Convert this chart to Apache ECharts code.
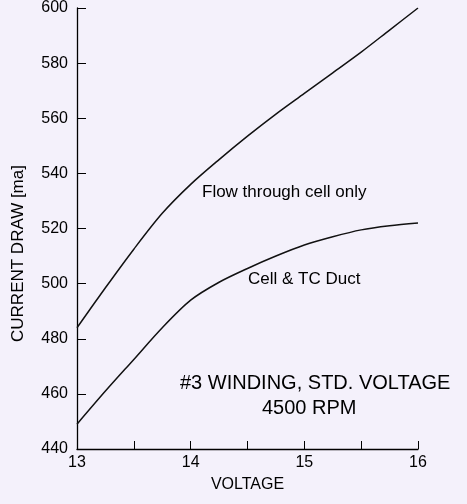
<!DOCTYPE html>
<html>
<head>
<meta charset="utf-8">
<script src="https://cdn.jsdelivr.net/npm/echarts@6/dist/echarts.min.js"></script>
<style>
  html, body { margin: 0; padding: 0; background: #f4f1fb; }
  #chart { width: 467px; height: 504px; }
</style>
</head>
<body>
<div id="chart"></div>
<script>
// volts along the bottom
const voltage = [13, 13.25, 13.5, 13.75, 14, 14.25, 14.5, 14.75, 15, 15.25, 15.5, 15.75, 16]
// current draw, ma
const flowCellOnly = [484, 498.5, 512.5, 525.5, 536, 545, 553.5, 561.5, 569, 576.5, 584, 592, 600]
const cellTcDuct = [449, 461, 472.5, 484, 494, 500.5, 505.5, 510, 514, 517, 519.5, 521, 522]
const yTicks = [440, 460, 480, 500, 520, 540, 560, 580, 600]
const xTicks = [13, 14, 15, 16]

const font = 'Liberation Sans'
const ink = '#000'

const toPairs = (xs, ys) => xs.map((x, i) => [x, ys[i]])

const lineSeries = (name, values) => ({
  name: name,
  type: 'line',
  data: toPairs(voltage, values),
  smooth: 0.3,
  showSymbol: false,
  lineStyle: { color: '#111', width: 1.5 },
  silent: true
})

const chart = echarts.init(document.getElementById('chart'))

chart.setOption({
  backgroundColor: '#f4f1fb',
  animation: false,
  grid: { left: 77, right: 49, top: 8, bottom: 55 },
  xAxis: {
    type: 'value',
    min: xTicks[0],
    max: xTicks[xTicks.length - 1],
    interval: 0.5,
    name: 'VOLTAGE',
    nameLocation: 'middle',
    nameGap: 28,
    nameTextStyle: { fontFamily: font, fontSize: 16, color: ink },
    axisLine: { lineStyle: { color: ink, width: 1.3 } },
    axisTick: { inside: true, length: 8, lineStyle: { color: ink } },
    axisLabel: {
      margin: 6,
      fontFamily: font,
      fontSize: 16,
      color: ink,
      formatter: v => xTicks.indexOf(v) >= 0 ? String(v) : ''
    },
    splitLine: { show: false }
  },
  yAxis: {
    type: 'value',
    min: yTicks[0],
    max: yTicks[yTicks.length - 1],
    interval: 20,
    name: 'CURRENT DRAW [ma]',
    nameLocation: 'middle',
    nameRotate: 90,
    nameGap: 50,
    nameTextStyle: { fontFamily: font, fontSize: 17, color: ink, padding: [0, 50, 0, 0] },
    axisLine: { show: true, lineStyle: { color: ink, width: 1.3 } },
    axisTick: { show: true, inside: true, length: 9, lineStyle: { color: ink } },
    axisLabel: { margin: 9, fontFamily: font, fontSize: 16, color: ink },
    splitLine: { show: false }
  },
  series: [
    lineSeries('Flow through cell only', flowCellOnly),
    lineSeries('Cell & TC Duct', cellTcDuct)
  ],
  graphic: [
    { type: 'text', left: 202, top: 184, style: { text: 'Flow through cell only', font: '17px "Liberation Sans"', fill: ink } },
    { type: 'text', left: 248, top: 271, style: { text: 'Cell & TC Duct', font: '17px "Liberation Sans"', fill: ink } },
    { type: 'text', left: 180, top: 373, style: { text: '#3 WINDING, STD. VOLTAGE', font: '20px "Liberation Sans"', fill: ink } },
    { type: 'text', left: 262, top: 398, style: { text: '4500 RPM', font: '20px "Liberation Sans"', fill: ink } }
  ]
})
</script>
</body>
</html>
